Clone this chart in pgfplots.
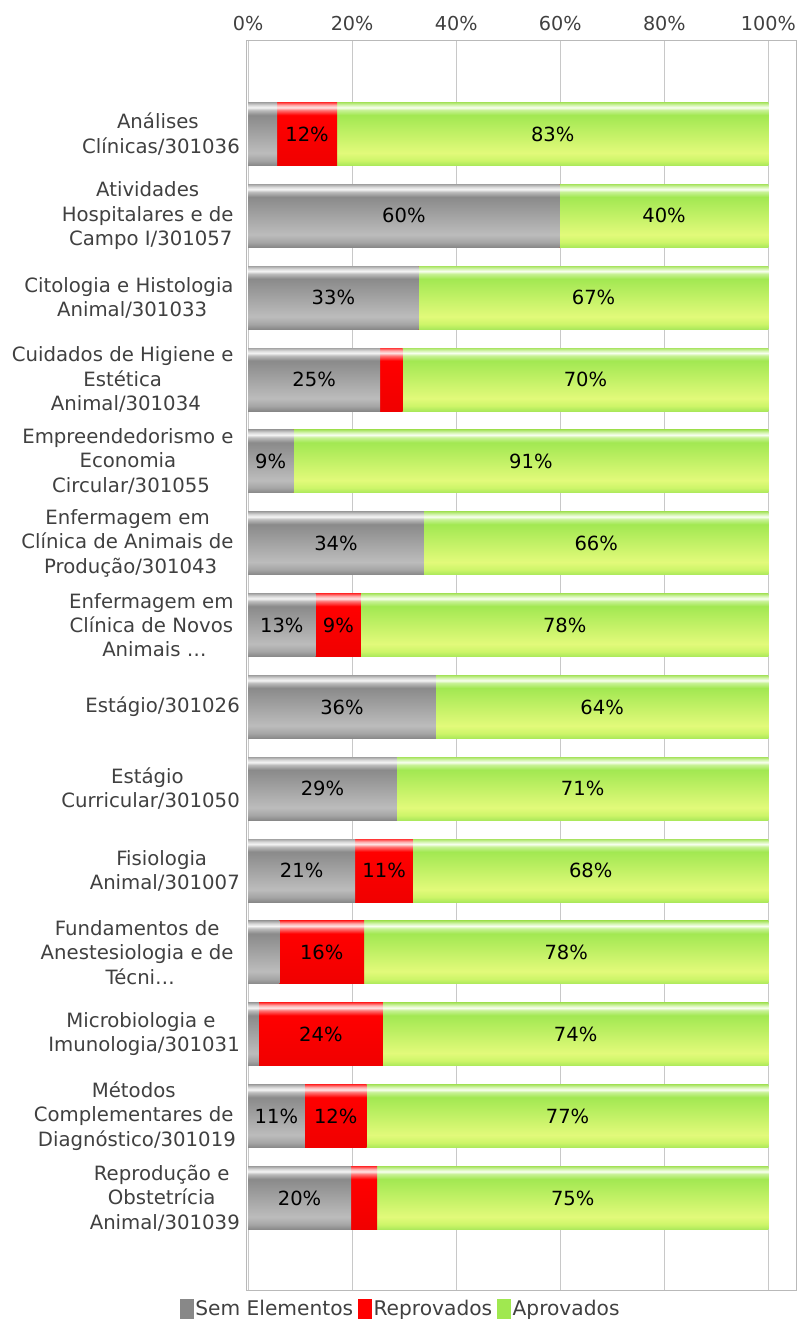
\documentclass[border=0pt]{standalone}
\usepackage{pgfplots}
\usepackage{pgfplotstable}
\pgfplotsset{compat=1.18}
\usepackage{fontspec}
\setmainfont{DejaVu Sans}
\newcommand{\tsp}{\kern0.318em}
\definecolor{txt}{RGB}{64,64,64}
\definecolor{gridc}{RGB}{200,200,200}
\definecolor{framec}{RGB}{185,185,185}
\definecolor{legGray}{RGB}{136,136,136}
\definecolor{legRed}{RGB}{255,0,0}
\definecolor{legGreen}{RGB}{160,232,80}
% green shading colours
\definecolor{gA}{RGB}{170,228,100}
\definecolor{gB}{RGB}{212,245,175}
\definecolor{gC}{RGB}{248,255,240}
\definecolor{gD}{RGB}{200,242,150}
\definecolor{gE}{RGB}{162,232,82}
\definecolor{gF}{RGB}{226,250,122}
\definecolor{gG}{RGB}{205,245,105}
\definecolor{gH}{RGB}{170,232,90}
% gray
\definecolor{kA}{RGB}{165,165,165}
\definecolor{kB}{RGB}{215,215,215}
\definecolor{kC}{RGB}{245,245,245}
\definecolor{kD}{RGB}{190,190,190}
\definecolor{kE}{RGB}{138,138,138}
\definecolor{kF}{RGB}{188,188,188}
\definecolor{kG}{RGB}{165,165,165}
\definecolor{kH}{RGB}{135,135,135}
% red
\definecolor{rA}{RGB}{255,60,60}
\definecolor{rB}{RGB}{255,170,170}
\definecolor{rC}{RGB}{255,228,228}
\definecolor{rD}{RGB}{255,120,120}
\definecolor{rE}{RGB}{255,0,0}
\definecolor{rH}{RGB}{240,0,0}
\pgfdeclareverticalshading{greenbar}{100bp}{color(0bp)=(gH); color(25bp)=(gH); color(29bp)=(gG); color(35bp)=(gF); color(65bp)=(gE); color(69bp)=(gD); color(71bp)=(gC); color(73bp)=(gB); color(75bp)=(gA); color(100bp)=(gA)}
\pgfdeclareverticalshading{graybar}{100bp}{color(0bp)=(kH); color(25bp)=(kH); color(29bp)=(kG); color(35bp)=(kF); color(65bp)=(kE); color(69bp)=(kD); color(71bp)=(kC); color(73bp)=(kB); color(75bp)=(kA); color(100bp)=(kA)}
\pgfdeclareverticalshading{redbar}{100bp}{color(0bp)=(rH); color(25bp)=(rH); color(65bp)=(rE); color(69bp)=(rD); color(71bp)=(rC); color(73bp)=(rB); color(75bp)=(rA); color(100bp)=(rA)}
% percentages per course: Sem Elementos, Reprovados, Aprovados
\pgfplotstableread{
y  sem   rep   apr
1  5.6   11.5  82.9
2  59.9  0     40.1
3  32.8  0     67.2
4  25.4  4.3   70.3
5  8.7   0     91.3
6  33.8  0     66.2
7  13.0  8.7   78.3
8  36.1  0     63.9
9  28.6  0     71.4
10 20.6  11.1  68.3
11 6.0   16.3  77.7
12 2.1   23.8  74.1
13 10.9  11.9  77.2
14 19.8  5.0   75.2
}\data
\pgfplotsset{onebar/.style={xbar, bar width=0.77, bar shift=0pt, draw=none, shade, forget plot, mark=none}}
\begin{document}
\begin{tikzpicture}[font=\fontsize{19.7bp}{24.3bp}\selectfont]
\begin{axis}[
  name=main,
  scale only axis, width=549bp, height=1250bp,
  xmin=-0.2, xmax=105.3,
  ymin=-0.148, ymax=15.124, y dir=reverse,
  xtick={0,20,40,60,80,100},
  xticklabels={0\%,20\%,40\%,60\%,80\%,100\%},
  xticklabel pos=upper,
  ytick={1,2,3,4,5,6,7,8,9,10,11,12,13,14},
  yticklabels={
    {Análises\tsp\\Clínicas/301036},
    {Atividades\tsp\\Hospitalares e de\tsp\\Campo I/301057},
    {Citologia e Histologia\tsp\\Animal/301033},
    {Cuidados de Higiene e\tsp\\Estética\tsp\\Animal/301034},
    {Empreendedorismo e\tsp\\Economia\tsp\\Circular/301055},
    {Enfermagem em\tsp\\Clínica de Animais de\tsp\\Produção/301043},
    {Enfermagem em\tsp\\Clínica de Novos\tsp\\Animais …},
    {Estágio/301026},
    {Estágio\tsp\\Curricular/301050},
    {Fisiologia\tsp\\Animal/301007},
    {Fundamentos de\tsp\\Anestesiologia e de\tsp\\Técni…},
    {Microbiologia e\tsp\\Imunologia/301031},
    {Métodos\tsp\\Complementares de\tsp\\Diagnóstico/301019},
    {Reprodução e\tsp\\Obstetrícia\tsp\\Animal/301039}},
  yticklabel style={align=center, inner sep=0pt, xshift=-7bp, text=txt},
  xticklabel style={inner sep=0pt, yshift=9bp, text=txt, font=\fontsize{19.2bp}{23bp}\selectfont},
  major tick length=0pt,
  xmajorgrids, grid style={gridc, line width=1bp},
  axis line style={framec, line width=1bp},
  legend style={draw=none, fill=none, at={(axis description cs:0.28,-0.0152)}, anchor=center,
    text=txt, font=\fontsize{20.2bp}{24bp}\selectfont, inner sep=0pt,
    nodes={inner sep=2bp},
    /tikz/every even column/.append style={column sep=3bp}},
  legend columns=-1,
]
\pgfplotsinvokeforeach{1,...,14}{
  \addplot[onebar, shading=greenbar, restrict y to domain=#1:#1]
    table[x expr=\thisrow{sem}+\thisrow{rep}+\thisrow{apr}, y=y]{\data};
  \addplot[onebar, shading=redbar, restrict y to domain=#1:#1]
    table[x expr=\thisrow{sem}+\thisrow{rep}, y=y]{\data};
  \addplot[onebar, shading=graybar, restrict y to domain=#1:#1]
    table[x=sem, y=y]{\data};
}
\addlegendimage{legend image code/.code={\fill[legGray] (0bp,-9.5bp) rectangle (13bp,9.5bp);}}
\addlegendentry{Sem Elementos}
\addlegendimage{legend image code/.code={\fill[legRed] (0bp,-9.5bp) rectangle (13bp,9.5bp);}}
\addlegendentry{Reprovados}
\addlegendimage{legend image code/.code={\fill[legGreen] (0bp,-9.5bp) rectangle (13bp,9.5bp);}}
\addlegendentry{Aprovados}
\end{axis}
\begin{axis}[
  scale only axis, width=549bp, height=1250bp,
  xmin=-0.2, xmax=105.3,
  ymin=-0.148, ymax=15.124, y dir=reverse,
  hide axis,
]
\addplot[draw=none, mark=none, nodes near coords, point meta=explicit symbolic,
  every node near coord/.append style={anchor=center, text=black, inner sep=0pt, font=\fontsize{19.5bp}{24bp}\selectfont}]
  coordinates {
  (11.35,1)[12\%] (58.55,1)[83\%]
  (29.95,2)[60\%] (79.95,2)[40\%]
  (16.4,3)[33\%] (66.4,3)[67\%]
  (12.7,4)[25\%] (64.85,4)[70\%]
  (4.35,5)[9\%] (54.35,5)[91\%]
  (16.9,6)[34\%] (66.9,6)[66\%]
  (6.5,7)[13\%] (17.35,7)[9\%] (60.85,7)[78\%]
  (18.05,8)[36\%] (68.05,8)[64\%]
  (14.3,9)[29\%] (64.3,9)[71\%]
  (10.3,10)[21\%] (26.15,10)[11\%] (65.85,10)[68\%]
  (14.15,11)[16\%] (61.15,11)[78\%]
  (14.0,12)[24\%] (62.95,12)[74\%]
  (5.45,13)[11\%] (16.85,13)[12\%] (61.4,13)[77\%]
  (9.9,14)[20\%] (62.4,14)[75\%]
  };
\end{axis}
\pgfresetboundingbox
\useasboundingbox (main.south west) ++(-247bp,-29bp) rectangle ++(798bp,1319bp);
\end{tikzpicture}
\end{document}
